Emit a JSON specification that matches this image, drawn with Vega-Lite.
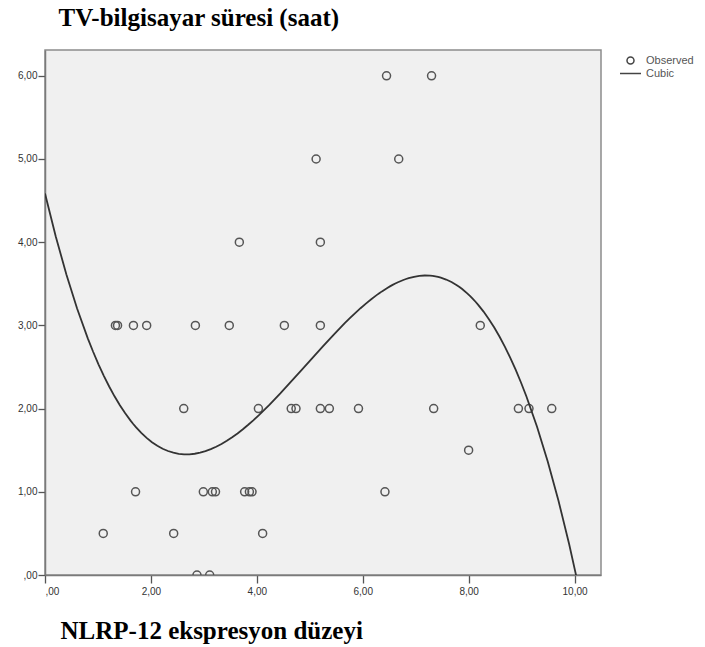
{
  "$schema": "https://vega.github.io/schema/vega-lite/v6.json",
  "width": 556,
  "height": 525,
  "autosize": {"type": "none"},
  "padding": {"left": 45, "top": 50, "right": 104, "bottom": 72},
  "background": "#ffffff",
  "datasets": {
    "observed": [
      {"nlrp": 6.45, "tv": 6}, {"nlrp": 7.30, "tv": 6},
      {"nlrp": 5.12, "tv": 5}, {"nlrp": 6.68, "tv": 5},
      {"nlrp": 3.67, "tv": 4}, {"nlrp": 5.20, "tv": 4},
      {"nlrp": 1.33, "tv": 3}, {"nlrp": 1.37, "tv": 3}, {"nlrp": 1.67, "tv": 3},
      {"nlrp": 1.92, "tv": 3}, {"nlrp": 2.84, "tv": 3}, {"nlrp": 3.48, "tv": 3},
      {"nlrp": 4.52, "tv": 3}, {"nlrp": 5.20, "tv": 3}, {"nlrp": 8.22, "tv": 3},
      {"nlrp": 2.62, "tv": 2}, {"nlrp": 4.03, "tv": 2}, {"nlrp": 4.65, "tv": 2},
      {"nlrp": 4.74, "tv": 2}, {"nlrp": 5.20, "tv": 2}, {"nlrp": 5.37, "tv": 2},
      {"nlrp": 5.92, "tv": 2}, {"nlrp": 7.34, "tv": 2}, {"nlrp": 8.94, "tv": 2},
      {"nlrp": 9.14, "tv": 2}, {"nlrp": 9.57, "tv": 2},
      {"nlrp": 8.00, "tv": 1.5},
      {"nlrp": 1.71, "tv": 1}, {"nlrp": 2.99, "tv": 1}, {"nlrp": 3.16, "tv": 1},
      {"nlrp": 3.22, "tv": 1}, {"nlrp": 3.77, "tv": 1}, {"nlrp": 3.86, "tv": 1},
      {"nlrp": 3.91, "tv": 1}, {"nlrp": 6.42, "tv": 1},
      {"nlrp": 1.10, "tv": 0.5}, {"nlrp": 2.43, "tv": 0.5}, {"nlrp": 4.11, "tv": 0.5},
      {"nlrp": 2.87, "tv": 0}, {"nlrp": 3.11, "tv": 0}
    ]
  },
  "data": {"name": "observed"},
  "encoding": {
    "x": {
      "field": "nlrp",
      "type": "quantitative",
      "scale": {"domain": [0, 10.5], "nice": false, "zero": false},
      "axis": {
        "values": [0, 2, 4, 6, 8, 10],
        "labelExpr": "datum.value == 0 ? ',00' : replace(format(datum.value, '.2f'), '.', ',')",
        "grid": false,
        "tickSize": 8,
        "tickColor": "#555555",
        "tickWidth": 1.3,
        "domainColor": "#7a7a7a",
        "domainWidth": 1.5,
        "labelFont": "Liberation Sans",
        "labelFontSize": 10,
        "labelColor": "#333333",
        "labelPadding": 3,
        "title": "NLRP-12 ekspresyon düzeyi",
        "titleFont": "Liberation Serif",
        "titleFontSize": 25,
        "titleFontWeight": "bold",
        "titleColor": "#000000",
        "titleAnchor": "start",
        "titleAlign": "left",
        "titleBaseline": "alphabetic",
        "titleX": 15,
        "titleY": 63
      }
    },
    "y": {
      "field": "tv",
      "type": "quantitative",
      "scale": {"domain": [0, 6.31], "nice": false, "zero": false},
      "axis": {
        "values": [0, 1, 2, 3, 4, 5, 6],
        "labelExpr": "datum.value == 0 ? ',00' : replace(format(datum.value, '.2f'), '.', ',')",
        "grid": false,
        "tickSize": 7,
        "tickColor": "#555555",
        "tickWidth": 1.3,
        "domainColor": "#7a7a7a",
        "domainWidth": 1.5,
        "labelFont": "Liberation Sans",
        "labelFontSize": 10,
        "labelColor": "#333333",
        "labelPadding": 1,
        "title": "TV-bilgisayar süresi (saat)",
        "titleFont": "Liberation Serif",
        "titleFontSize": 25,
        "titleFontWeight": "bold",
        "titleColor": "#000000",
        "titleAngle": 0,
        "titleAnchor": "start",
        "titleAlign": "left",
        "titleBaseline": "alphabetic",
        "titleX": 13,
        "titleY": -25
      }
    }
  },
  "layer": [
    {
      "mark": {"type": "point", "filled": false, "size": 64, "strokeWidth": 1.5, "opacity": 1, "color": "#555555", "clip": true},
      "encoding": {
        "shape": {
          "datum": "Observed",
          "scale": {"domain": ["Observed", "Cubic"], "range": ["circle", "M-3,0L3,0"]},
          "legend": {
            "orient": "none",
            "legendX": 580,
            "legendY": 5,
            "title": null,
            "padding": 0,
            "symbolSize": 49,
            "rowPadding": 0,
            "labelOffset": 10,
            "labelFont": "Liberation Sans",
            "labelFontSize": 11,
            "labelColor": "#555555",
            "symbolStrokeColor": "#444444",
            "symbolStrokeWidth": 1.5,
            "symbolFillColor": "transparent"
          }
        }
      }
    },
    {
      "transform": [
        {"regression": "tv", "on": "nlrp", "method": "poly", "order": 3, "extent": [0, 10.1]}
      ],
      "mark": {"type": "line", "strokeWidth": 1.8, "color": "#333333", "clip": true},
      "encoding": {}
    }
  ],
  "config": {
    "view": {"fill": "#f0f0f0", "stroke": "#8c8c8c", "strokeWidth": 1.5}
  }
}
